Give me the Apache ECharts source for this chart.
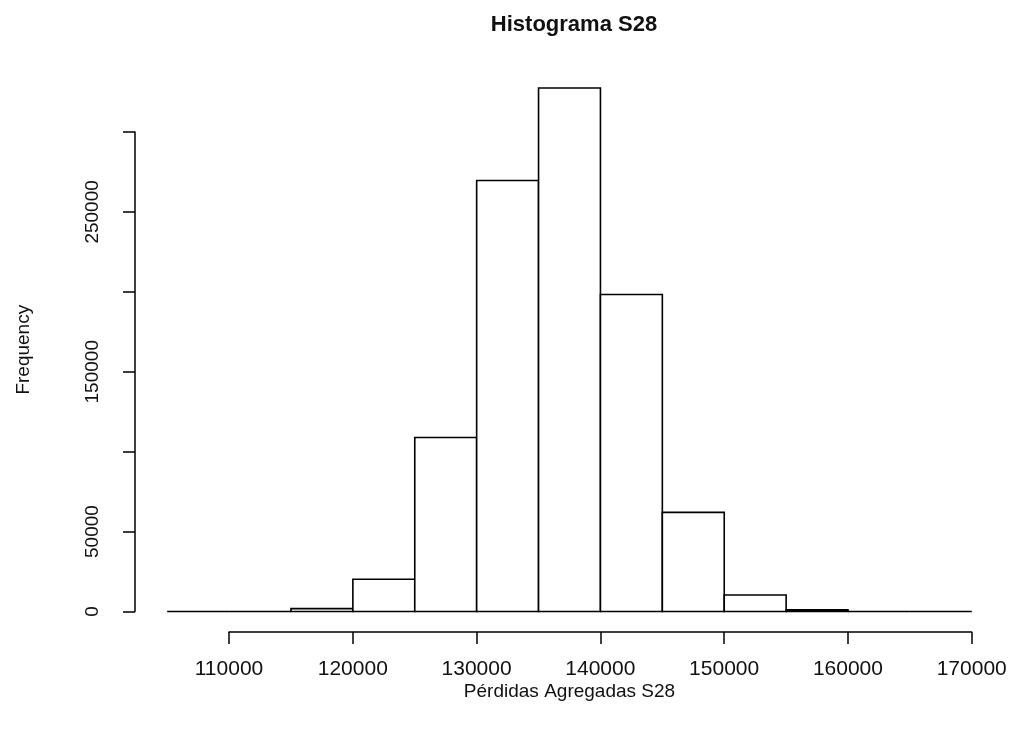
<!DOCTYPE html>
<html><head><meta charset="utf-8">
<script src="https://cdn.jsdelivr.net/npm/echarts@6/dist/echarts.min.js"></script>
<style>html,body{margin:0;background:#fff}#c{width:1021px;height:729px}</style>
</head><body><div id="c"></div>
<script>
const chartTitle = 'Histograma S28';
const xLabel = 'Pérdidas Agregadas S28';
const yLabel = 'Frequency';
const binStarts = [105000,110000,115000,120000,125000,130000,135000,140000,145000,150000,155000,160000,165000];
const binWidth = 5000;
const counts = [0,0,1800,20200,108900,269700,327600,198300,62000,10300,1000,0,0];
const xTickMin = 110000, xTickMax = 170000, xTickStep = 10000;
const yTickMin = 0, yTickMax = 300000, yTickStep = 50000;
const yTickLabelsShown = [0, 50000, 150000, 250000];

const font = 'Liberation Sans, Arial, sans-serif';
const ink = '#111';
const chart = echarts.init(document.getElementById('c'), null, {renderer:'canvas'});
chart.setOption({
  backgroundColor:'#fff',
  animation:false,
  title:{text:chartTitle, left:569, top:9, textAlign:'center',
    textStyle:{fontFamily:font, fontWeight:'bold', fontSize:22, color:ink}},
  grid:[
    {left:135, right:17, top:67, bottom:96.6},
    {left:229, right:49.3, top:631, height:1},
    {left:135, width:1, top:132, bottom:117.5}
  ],
  xAxis:[
    {gridIndex:0, type:'value', min:102400, max:172600,
     axisLine:{show:false}, axisTick:{show:false}, axisLabel:{show:false}, splitLine:{show:false},
     name:xLabel, nameLocation:'middle', nameGap:50,
     nameTextStyle:{fontFamily:font, fontSize:19, color:ink}},
    {gridIndex:1, type:'value', position:'bottom', min:xTickMin, max:xTickMax, interval:xTickStep,
     axisLine:{lineStyle:{color:'#000', width:1.5}},
     axisTick:{length:12, lineStyle:{color:'#000', width:1.5}},
     axisLabel:{margin:27, fontFamily:font, fontSize:21, color:ink, formatter:v=>String(v)},
     splitLine:{show:false}},
    {gridIndex:2, type:'value', show:false}
  ],
  yAxis:[
    {gridIndex:0, type:'value', min:-13100, max:340700,
     axisLine:{show:false}, axisTick:{show:false}, axisLabel:{show:false}, splitLine:{show:false},
     name:yLabel, nameLocation:'middle', nameGap:102,
     nameTextStyle:{fontFamily:font, fontSize:19, color:ink}},
    {gridIndex:1, type:'value', show:false},
    {gridIndex:2, type:'value', position:'left', min:yTickMin, max:yTickMax, interval:yTickStep,
     axisLine:{show:true, lineStyle:{color:'#000', width:1.5}},
     axisTick:{show:true, length:12, lineStyle:{color:'#000', width:1.5}},
     axisLabel:{rotate:90, margin:33, fontFamily:font, fontSize:19, color:ink,
       formatter:v=>yTickLabelsShown.includes(v) ? String(v) : ''},
     splitLine:{show:false}}
  ],
  series:[{
    type:'custom', xAxisIndex:0, yAxisIndex:0, clip:false,
    encode:{x:[0,1], y:2},
    data: binStarts.map((s,i)=>[s, s+binWidth, counts[i]]),
    renderItem:function(params, api){
      const p0 = api.coord([api.value(0), api.value(2)]);
      const p1 = api.coord([api.value(1), 0]);
      return {type:'rect',
        shape:{x:p0[0], y:p0[1], width:p1[0]-p0[0], height:p1[1]-p0[1]},
        style:{fill:'#fff', stroke:'#000', lineWidth:1.6}};
    }
  }]
});
</script></body></html>
